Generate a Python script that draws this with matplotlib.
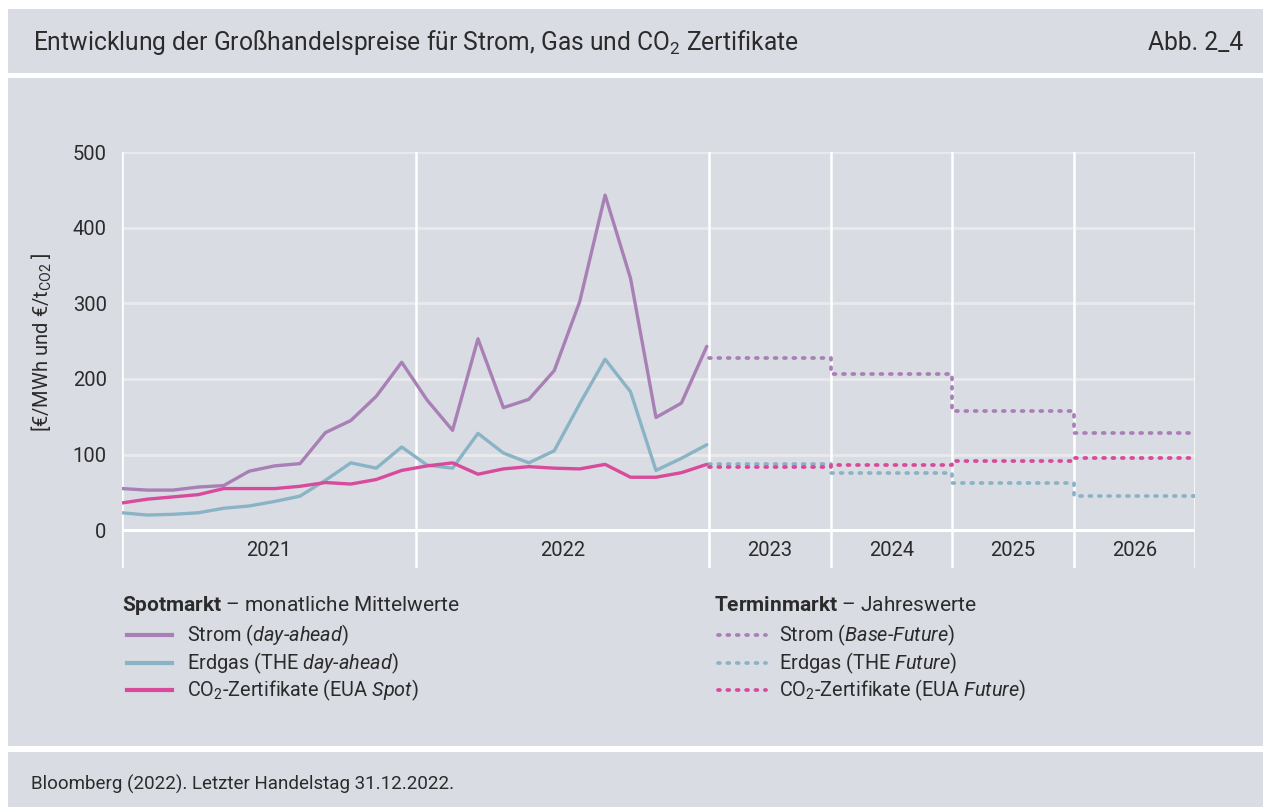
import numpy as np
import matplotlib
matplotlib.use("Agg")
import matplotlib.pyplot as plt
from matplotlib.patches import Rectangle
from matplotlib.lines import Line2D

plt.rcParams['font.family'] = ['Roboto', 'DejaVu Sans']
plt.rcParams['mathtext.fontset'] = 'custom'
plt.rcParams['mathtext.rm'] = 'Roboto'
plt.rcParams['mathtext.it'] = 'Roboto:italic'
plt.rcParams['mathtext.bf'] = 'Roboto:bold'

##data - monthly spot prices 2021/2022 (Jan..Dec)
months = np.arange(24)
strom_spot = [55, 53, 53, 57, 59, 78, 85, 88, 129, 145, 177, 222,
              172, 132, 253, 162, 173, 211, 302, 443, 333, 149, 168, 243]
gas_spot = [23, 20, 21, 23, 29, 32, 38, 45, 66, 89, 82, 110,
            86, 82, 128, 102, 89, 105, 167, 226, 183, 79, 95, 113]
co2_spot = [36, 41, 44, 47, 55, 55, 55, 58, 63, 61, 67, 79,
            85, 89, 74, 81, 84, 82, 81, 87, 70, 70, 76, 87]

##forward (annual) prices
fwd_years = ['2023', '2024', '2025', '2026']
strom_fwd = [228, 207, 158, 129]
gas_fwd = [87, 76, 62, 45]
co2_fwd = [84, 86, 91, 95]

spot_years = ['2021', '2022']
yticks = [0, 100, 200, 300, 400, 500]

spot_labels = ['Strom ($\\mathit{day}$-$\\mathit{ahead}$)',
               'Erdgas (THE $\\mathit{day}$-$\\mathit{ahead}$)',
               'CO$_2$-Zertifikate (EUA $\\mathit{Spot}$)']
fwd_labels = ['Strom ($\\mathit{Base}$-$\\mathit{Future}$)',
              'Erdgas (THE $\\mathit{Future}$)',
              'CO$_2$-Zertifikate (EUA $\\mathit{Future}$)']

# section edges on the x axis (month units)
edges = [0, 11.55, 23.1, 27.875, 32.65, 37.425, 42.2]

c_strom = '#a880b5'
c_gas = '#8ab4c5'
c_co2 = '#d84a9b'
bg = '#d9dce3'
txt = '#2b2b2b'
dots = (0, (0.5, 2.0))

fig = plt.figure(figsize=(12.63, 8.07), dpi=100, facecolor='white')
H = 807.0
W = 1263.0
# panels
for y0, y1 in [(9, 73), (78, 746), (752, 807)]:
    fig.patches.append(Rectangle((8 / W, 1 - y1 / H), 1 - 8 / W, (y1 - y0) / H,
                                 transform=fig.transFigure, facecolor=bg,
                                 edgecolor='none', zorder=-5))

fig.text(33 / W, 1 - 50 / H, 'Entwicklung der Großhandelspreise für Strom, Gas und CO$_2$ Zertifikate',
         fontsize=17.7, color=txt, va='baseline', ha='left')
fig.text(1243 / W, 1 - 50 / H, 'Abb. 2_4', fontsize=17.7, color=txt, va='baseline', ha='right')
fig.text(31 / W, 1 - 790 / H, 'Bloomberg (2022). Letzter Handelstag 31.12.2022.',
         fontsize=13.5, color=txt, va='baseline', ha='left')

ax = fig.add_axes([122 / W, 1 - 568 / H, (1195 - 122) / W, (568 - 152) / H])
ax.set_facecolor('none')
for s in ax.spines.values():
    s.set_visible(False)

ax.set_xlim(edges[0], edges[-1])
ax.set_ylim(-50, 500)

# grid
for v in yticks[1:]:
    ax.axhline(v, color='#e9eaee', lw=2, zorder=1)
ax.axhline(0, color='white', lw=2.2, zorder=1)
for e in edges:
    ax.axvline(e, color='white', lw=1.8, zorder=1)

# spot lines
ax.plot(months, strom_spot, color=c_strom, lw=2.4, zorder=3, solid_capstyle='round')
ax.plot(months, gas_spot, color=c_gas, lw=2.4, zorder=3, solid_capstyle='round')
ax.plot(months, co2_spot, color=c_co2, lw=2.4, zorder=4, solid_capstyle='round')

# forward lines as steps
fx = edges[2:]
ax.plot(fx, strom_fwd + [strom_fwd[-1]], drawstyle='steps-post', color=c_strom,
        lw=2.7, ls=dots, dash_capstyle='round', zorder=3)
ax.plot(fx, gas_fwd + [gas_fwd[-1]], drawstyle='steps-post', color=c_gas,
        lw=2.7, ls=dots, dash_capstyle='round', zorder=3)
ax.plot(fx, co2_fwd + [co2_fwd[-1]], drawstyle='steps-post', color=c_co2,
        lw=2.7, ls=dots, dash_capstyle='round', zorder=4)

ax.set_yticks(yticks)
ax.set_yticklabels([str(v) for v in yticks])
ax.set_xticks([])
ax.tick_params(axis='y', length=0, pad=11, labelsize=14.5, labelcolor=txt)

# year labels
labels = spot_years + fwd_years
for i, lab in enumerate(labels):
    ax.text((edges[i] + edges[i + 1]) / 2, -27, lab, ha='center', va='center',
            fontsize=14.5, color=txt)

fig.text(42 / W, 1 - 342 / H, '[€/MWh und €/t$_{\\mathrm{CO2}}$ ]', rotation=90,
         ha='center', va='center', fontsize=14.5, color=txt)

# legends, drawn by hand so that both columns line up
def legend_block(x_title, x_h0, x_h1, x_txt, title, labels, colors, ls, lw):
    fig.text(x_title / W, 1 - 611 / H, title, fontsize=15, color=txt, va='baseline')
    for k, (lab, col) in enumerate(zip(labels, colors)):
        yy = 635 + k * 27.5
        fig.add_artist(Line2D([x_h0 / W, x_h1 / W], [1 - yy / H, 1 - yy / H],
                              transform=fig.transFigure, color=col, lw=lw, ls=ls,
                              dash_capstyle='round'))
        fig.text(x_txt / W, 1 - (yy + 6.5) / H, lab, fontsize=14.3, color=txt, va='baseline')

cols = [c_strom, c_gas, c_co2]
legend_block(122, 127, 172, 187, '$\\mathbf{Spotmarkt}$ – monatliche Mittelwerte',
             spot_labels, cols, '-', 3)
legend_block(714, 718, 766, 779, '$\\mathbf{Terminmarkt}$ – Jahreswerte',
             fwd_labels, cols, dots, 2.7)

fig.savefig('out.png', dpi=100, facecolor='white')
